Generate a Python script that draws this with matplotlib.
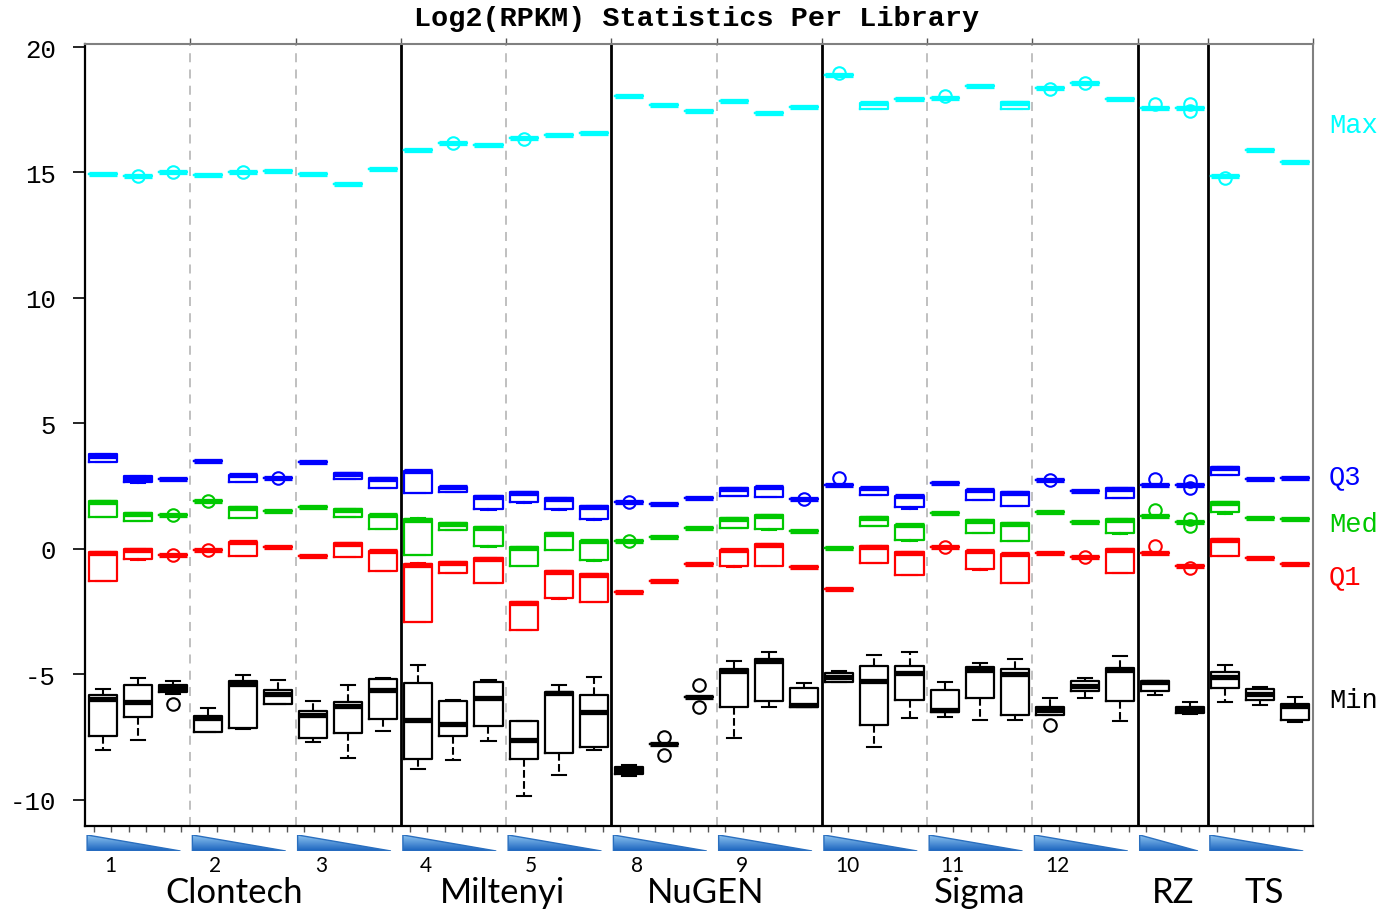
import numpy as np
import matplotlib.pyplot as plt
from matplotlib.patches import Polygon
from matplotlib.colors import LinearSegmentedColormap
from matplotlib.transforms import blended_transform_factory

# one tuple per library position: (whisker low, q1, median, q3, whisker high)
max_stats = [
    (14.95,) * 5, (14.85,) * 5, (15.0,) * 5, (14.89,) * 5, (15.0,) * 5, (15.07,) * 5,
    (14.95,) * 5, (14.54,) * 5, (15.13,) * 5,
    (15.88,) * 5, (16.16,) * 5, (16.11,) * 5, (16.39,) * 5, (16.49,) * 5, (16.56,) * 5,
    (18.06,) * 5, (17.68,) * 5, (17.44,) * 5, (17.84,) * 5, (17.37,) * 5, (17.6,) * 5,
    (18.9,) * 5, (17.52, 17.52, 17.76, 17.78, 17.78), (17.93,) * 5,
    (17.96,) * 5, (18.45,) * 5, (17.53, 17.53, 17.78, 17.8, 17.8),
    (18.37,) * 5, (18.55,) * 5, (17.93,) * 5,
    (17.56,) * 5, (17.56,) * 5,
    (14.86,) * 5, (15.88,) * 5, (15.42,) * 5,
]
max_fliers = {2: [14.85], 3: [15.02], 5: [15.0], 11: [16.16], 13: [16.35],
              22: [18.98], 25: [18.03], 28: [18.33], 29: [18.58], 31: [17.74],
              32: [17.72, 17.45], 33: [14.78]}

q3_stats = [
    (3.45, 3.45, 3.72, 3.78, 3.78), (2.62, 2.68, 2.79, 2.92, 2.92), (2.79,) * 5,
    (3.51,) * 5, (2.68, 2.68, 2.93, 2.96, 2.96), (2.84,) * 5,
    (3.45,) * 5, (2.79, 2.79, 2.99, 3.03, 3.03), (2.44, 2.44, 2.79, 2.82, 2.82),
    (2.22, 2.22, 3.1, 3.12, 3.12), (2.26, 2.26, 2.46, 2.48, 2.48), (1.57, 1.59, 2.08, 2.12, 2.12),
    (1.83, 1.86, 2.24, 2.26, 2.26), (1.57, 1.59, 1.98, 2.02, 2.02), (1.15, 1.2, 1.69, 1.73, 1.73),
    (1.87,) * 5, (1.8,) * 5, (2.04,) * 5,
    (2.09, 2.12, 2.39, 2.42, 2.42), (2.08, 2.08, 2.45, 2.48, 2.48), (1.99,) * 5,
    (2.56,) * 5, (2.15, 2.15, 2.41, 2.44, 2.44), (1.6, 1.66, 2.1, 2.12, 2.12),
    (2.63,) * 5, (1.96, 1.96, 2.33, 2.36, 2.36), (1.73, 1.73, 2.23, 2.26, 2.26),
    (2.74,) * 5, (2.32,) * 5, (2.02, 2.02, 2.39, 2.42, 2.42),
    (2.56,) * 5, (2.56,) * 5,
    (2.96, 2.96, 3.22, 3.25, 3.25), (2.79,) * 5, (2.84,) * 5,
]
q3_fliers = {6: [2.84], 16: [1.87], 21: [1.99], 22: [2.82], 28: [2.74],
             31: [2.8], 32: [2.72, 2.42]}

med_stats = [
    (1.26, 1.26, 1.87, 1.9, 1.9), (1.1, 1.1, 1.4, 1.43, 1.43), (1.35,) * 5,
    (1.92,) * 5, (1.22, 1.22, 1.63, 1.66, 1.66), (1.53,) * 5,
    (1.69,) * 5, (1.26, 1.26, 1.57, 1.59, 1.59), (0.81, 0.81, 1.35, 1.37, 1.37),
    (-0.24, -0.24, 1.17, 1.2, 1.25), (0.77, 0.77, 1.0, 1.04, 1.04), (0.08, 0.13, 0.84, 0.86, 0.86),
    (-0.69, -0.66, 0.04, 0.07, 0.07), (-0.04, -0.04, 0.6, 0.63, 0.63), (-0.47, -0.43, 0.3, 0.33, 0.33),
    (0.31,) * 5, (0.49,) * 5, (0.84,) * 5,
    (0.82, 0.82, 1.2, 1.23, 1.23), (0.76, 0.8, 1.33, 1.37, 1.37), (0.72,) * 5,
    (0.04,) * 5, (0.93, 0.93, 1.23, 1.26, 1.26), (0.3, 0.36, 0.94, 0.97, 0.97),
    (1.42,) * 5, (0.64, 0.64, 1.13, 1.16, 1.16), (0.31, 0.31, 0.99, 1.02, 1.02),
    (1.49,) * 5, (1.06,) * 5, (0.6, 0.64, 1.17, 1.2, 1.2),
    (1.33,) * 5, (1.06,) * 5,
    (1.41, 1.46, 1.83, 1.86, 1.86), (1.23,) * 5, (1.18,) * 5,
]
med_fliers = {3: [1.35], 4: [1.92], 16: [0.31], 31: [1.57], 32: [1.2, 0.92]}

q1_stats = [
    (-1.26, -1.26, -0.16, -0.13, -0.13), (-0.44, -0.4, -0.03, 0.0, 0.0), (-0.23,) * 5,
    (-0.03,) * 5, (-0.29, -0.29, 0.27, 0.29, 0.29), (0.07,) * 5,
    (-0.27,) * 5, (-0.33, -0.33, 0.2, 0.23, 0.23), (-0.86, -0.86, -0.1, -0.07, -0.07),
    (-2.93, -2.9, -0.64, -0.6, -0.56), (-0.97, -0.97, -0.56, -0.53, -0.53), (-1.37, -1.37, -0.39, -0.36, -0.36),
    (-3.23, -3.23, -2.15, -2.12, -2.12), (-2.0, -1.96, -0.93, -0.89, -0.89), (-2.12, -2.12, -1.03, -1.0, -1.0),
    (-1.73,) * 5, (-1.26,) * 5, (-0.62,) * 5,
    (-0.73, -0.69, -0.05, -0.03, -0.03), (-0.66, -0.66, 0.17, 0.2, 0.2), (-0.73,) * 5,
    (-1.61,) * 5, (-0.57, -0.57, 0.08, 0.11, 0.11), (-1.02, -1.02, -0.16, -0.13, -0.13),
    (0.08,) * 5, (-0.85, -0.8, -0.1, -0.08, -0.08), (-1.37, -1.37, -0.21, -0.19, -0.19),
    (-0.15,) * 5, (-0.31,) * 5, (-0.97, -0.97, -0.03, 0.0, 0.0),
    (-0.15,) * 5, (-0.66,) * 5,
    (-0.29, -0.29, 0.37, 0.4, 0.4), (-0.37,) * 5, (-0.61,) * 5,
]
q1_fliers = {3: [-0.23], 4: [-0.03], 25: [0.08], 29: [-0.31], 31: [0.11], 32: [-0.74]}

min_stats = [
    (-8.0, -7.44, -5.97, -5.82, -5.6), (-7.6, -6.71, -6.11, -5.42, -5.14), (-5.78, -5.71, -5.55, -5.42, -5.27),
    (-7.3, -7.3, -6.72, -6.64, -6.35), (-7.17, -7.14, -5.38, -5.25, -5.02), (-6.18, -6.18, -5.8, -5.64, -5.21),
    (-7.68, -7.52, -6.6, -6.44, -6.06), (-8.34, -7.34, -6.27, -6.11, -5.42), (-7.26, -6.77, -5.64, -5.18, -5.15),
    (-8.76, -8.37, -6.8, -5.35, -4.61), (-8.41, -7.46, -6.97, -6.04, -6.02), (-7.66, -7.04, -5.94, -5.31, -5.21),
    (-9.83, -8.37, -7.61, -6.85, -6.85), (-9.0, -8.14, -5.75, -5.71, -5.42), (-8.0, -7.9, -6.51, -5.84, -5.09),
    (-9.06, -8.96, -8.8, -8.67, -8.6), (-7.79,) * 5, (-5.91,) * 5,
    (-7.54, -6.31, -4.87, -4.78, -4.45), (-6.28, -6.07, -4.46, -4.38, -4.09), (-6.28, -6.28, -6.2, -5.55, -5.35),
    (-5.31, -5.31, -5.11, -4.95, -4.85), (-7.9, -7.0, -5.25, -4.67, -4.21), (-6.75, -6.02, -4.95, -4.67, -4.09),
    (-6.71, -6.48, -6.4, -5.64, -5.31), (-6.8, -5.95, -4.81, -4.71, -4.54), (-6.8, -6.6, -4.98, -4.78, -4.38),
    (-6.6, -6.6, -6.41, -6.28, -5.94), (-5.95, -5.67, -5.47, -5.28, -5.14), (-6.86, -6.07, -4.81, -4.75, -4.25),
    (-5.82, -5.67, -5.29, -5.25, -5.25), (-6.57, -6.53, -6.37, -6.28, -6.11),
    (-6.11, -5.55, -5.11, -4.89, -4.61), (-6.22, -6.0, -5.8, -5.6, -5.49), (-6.9, -6.81, -6.27, -6.18, -5.88),
]
min_fliers = {3: [-6.18], 17: [-7.5, -8.23], 18: [-5.44, -6.31], 28: [-7.01]}

# layout of the libraries
group_names = ["Clontech", "Miltenyi", "NuGEN", "Sigma", "RZ", "TS"]
group_sizes = [9, 6, 6, 9, 2, 3]
group_label_x = [4.75, 12.4, 18.2, 26.0, 31.5, 34.1]
series_sizes = [3, 3, 3, 3, 3, 3, 3, 3, 3, 3, 2, 3]   # one dilution triangle each
series_labels = ["1", "2", "3", "4", "5", "8", "9", "10", "11", "12", "", ""]

row_names = ["Max", "Q3", "Med", "Q1", "Min"]
row_label_y = [16.9, 2.9, 1.0, -1.07, -6.0]
row_colors = ["#00FFFF", "#0000FF", "#00C800", "#FF0000", "#000000"]

MONO = "Liberation Mono"


def to_bxp(stats, fliers):
    out = []
    for i, (lo, q1, med, q3, hi) in enumerate(stats):
        out.append(dict(whislo=lo, q1=q1, med=med, q3=q3, whishi=hi,
                        fliers=fliers.get(i + 1, [])))
    return out


def draw_row(ax, stats, fliers, color, dashed):
    pos = np.arange(1, len(stats) + 1)
    ax.bxp(to_bxp(stats, fliers), positions=pos, widths=0.8, capwidths=0.4,
           boxprops=dict(color=color, lw=1.6),
           medianprops=dict(color=color, lw=3.8, solid_capstyle="butt"),
           whiskerprops=dict(color=color, lw=1.5, ls="--" if dashed else "-"),
           capprops=dict(color=color, lw=1.5),
           flierprops=dict(marker="o", mfc="none", mec=color, mew=1.5, ms=9),
           manage_ticks=False)


def create_chart():
    fig = plt.figure(figsize=(13.95, 9.12), dpi=100)
    ax = fig.add_axes([85 / 1395, 1 - 827 / 912, (1313 - 85) / 1395, (827 - 45) / 912])

    all_rows = [(max_stats, max_fliers), (q3_stats, q3_fliers), (med_stats, med_fliers),
                (q1_stats, q1_fliers), (min_stats, min_fliers)]
    for (stats, fliers), color in zip(all_rows, row_colors):
        draw_row(ax, stats, fliers, color, dashed=(color == "#000000"))

    n = len(min_stats)
    ax.set_xlim(0.5, n + 0.5)
    ax.set_ylim(-11.04, 20.12)

    # separators between series (dashed) and between kits (solid)
    group_edges = np.cumsum(group_sizes)[:-1] + 0.5
    series_edges = np.cumsum(series_sizes)[:-1] + 0.5
    for x in series_edges:
        if x in group_edges:
            ax.axvline(x, color="black", lw=2, zorder=1)
        else:
            ax.axvline(x, color="#BBBBBB", lw=1.3, ls=(0, (5, 4)), zorder=1)

    ax.set_yticks([20, 15, 10, 5, 0, -5, -10])
    ax.set_yticklabels(["20", "15", "10", "5", "0", "-5", "-10"], fontfamily=MONO, fontsize=18.5)
    ax.tick_params(axis="y", length=9, width=1.2, pad=12)
    ax.set_xticks(np.arange(1, n + 1, 0.5) - 0.25)
    ax.tick_params(axis="x", length=4, width=1, labelbottom=False, color="#555555")
    top = ax.secondary_xaxis("top")
    top.set_xticks(list(series_edges) + [n + 0.5])
    top.tick_params(length=4, width=1, labeltop=False, color="#555555")
    top.spines["top"].set_visible(False)
    for side in ["top", "right"]:
        ax.spines[side].set_color("#808080")
        ax.spines[side].set_linewidth(1.5)
    for side in ["left", "bottom"]:
        ax.spines[side].set_linewidth(1.6)

    fig.text(697 / 1395, 1 - 19 / 912, "Log2(RPKM) Statistics Per Library",
             fontfamily=MONO, fontweight="bold", fontsize=20.5, ha="center", va="center")

    for name, y, color in zip(row_names, row_label_y, row_colors):
        ax.text(n + 0.95, y, name, color=color, fontfamily=MONO, fontsize=19.5,
                va="center", ha="left", clip_on=False)

    # dilution triangles under the axis
    strip = fig.add_axes([85 / 1395, 1 - 852 / 912, (1313 - 85) / 1395, 16 / 912])
    strip.set_xlim(0.5, n + 0.5)
    strip.set_ylim(0, 1)
    strip.axis("off")
    cmap = LinearSegmentedColormap.from_list("tri", ["#1A63BE", "#8CC3F0"])
    grad = np.linspace(0, 1, 64).reshape(-1, 1)
    blend = blended_transform_factory(ax.transData, fig.transFigure)
    start = 0.5
    for size, label in zip(series_sizes, series_labels):
        x0, x1 = start + 0.06, start + size - 0.28
        tri = Polygon([(x0, 0), (x0, 1), (x1, 0)], closed=True, fc="none",
                      ec="#2A6FBF", lw=1)
        strip.add_patch(tri)
        im = strip.imshow(grad, cmap=cmap, extent=[x0, x1, 0, 1], aspect="auto",
                          origin="lower", interpolation="bilinear")
        im.set_clip_path(tri)
        if label:
            fig.text(start + 0.72, 1 - 866 / 912, label, transform=blend,
                     fontfamily="Lato", fontsize=15, ha="center", va="center")
        start += size

    for name, x in zip(group_names, group_label_x):
        fig.text(x, 1 - 893 / 912, name, transform=blend,
                 fontfamily="Lato", fontsize=25, ha="center", va="center")

    fig.savefig("out.png", dpi=100)


if __name__ == "__main__":
    create_chart()
